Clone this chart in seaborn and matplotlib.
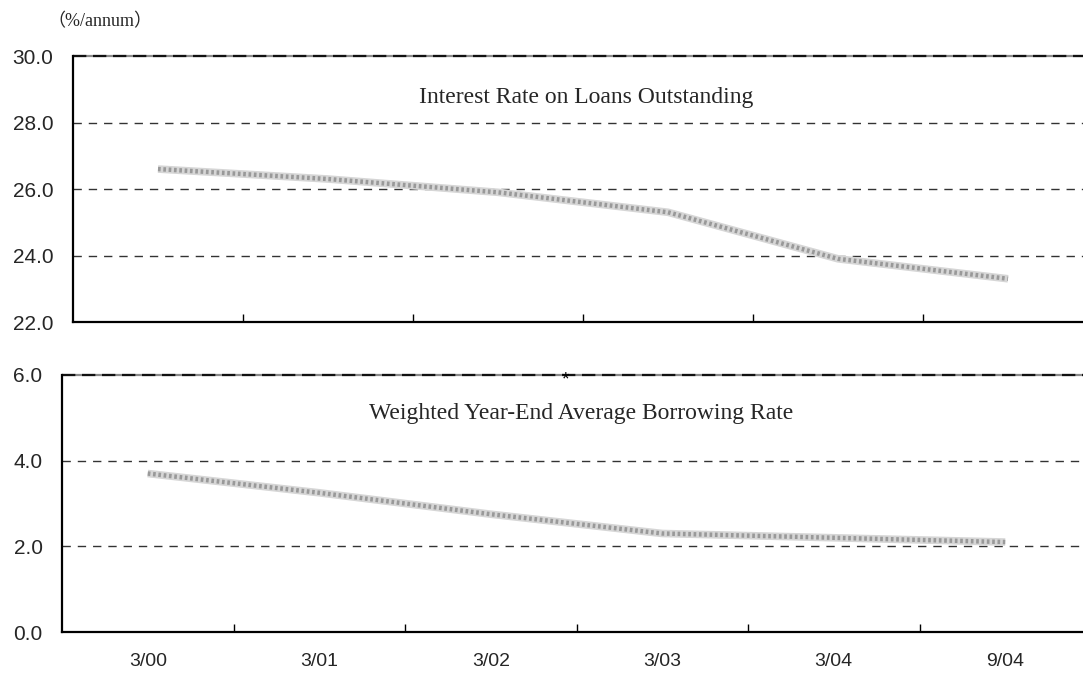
import matplotlib
matplotlib.use("Agg")
import matplotlib.pyplot as plt
import seaborn as sns
import pandas as pd

periods = ["3/00", "3/01", "3/02", "3/03", "3/04", "9/04"]
loan_rate = [26.6, 26.3, 25.9, 25.3, 23.9, 23.3]
borrow_rate = [3.7, 3.25, 2.75, 2.3, 2.2, 2.1]

top_title = "Interest Rate on Loans Outstanding"
bottom_title = "Weighted Year-End Average Borrowing Rate"
unit_label = "（%/annum）"

sns.set_theme(style="white")
plt.rcParams["font.family"] = ["Liberation Sans", "DejaVu Sans"]

W, H = 1083, 673
fig = plt.figure(figsize=(W / 100, H / 100), dpi=100)


def px_axes(left, top, right, bottom):
    return fig.add_axes([left / W, 1 - bottom / H, (right - left) / W, (bottom - top) / H])


ax1 = px_axes(73, 56, 1093, 322)
ax2 = px_axes(62, 375, 1091, 632)

df = pd.DataFrame({"period": periods, "x": range(len(periods)),
                   "loan": loan_rate, "borrow": borrow_rate})


def style_panel(ax, col, ylim, yticks, grid, title, tx, ty, show_labels):
    # textured grey line: light band with a dotted core
    sns.lineplot(data=df, x="x", y=col, ax=ax, color="#d6d6d6", lw=5.5,
                 solid_capstyle="butt", zorder=3)
    sns.lineplot(data=df, x="x", y=col, ax=ax, color="#999999", lw=3.2,
                 linestyle=(0, (0.6, 0.6)), zorder=4)
    ax.set_xlim(-0.5, len(periods) - 0.5)
    ax.set_ylim(*ylim)
    ax.set_xlabel("")
    ax.set_ylabel("")
    for g in grid:
        ax.axhline(g, color="#333333", lw=1.0, ls=(0, (6, 5)), zorder=1)
    # upper frame line: grey base with black dashes
    ax.axhline(ylim[1], color="#8a8a8a", lw=1.6, zorder=2, clip_on=False)
    ax.axhline(ylim[1], color="#111111", lw=1.6, ls=(0, (6, 3)), zorder=2,
               clip_on=False)
    ax.set_yticks(yticks)
    ax.set_yticklabels([f"{v:.1f}" for v in yticks], fontsize=15)
    ax.tick_params(axis="y", length=0, pad=14)
    # category separators as inward ticks
    ax.set_xticks([i + 0.5 for i in range(len(periods) - 1)])
    ax.set_xticklabels([])
    ax.tick_params(axis="x", direction="in", length=6, width=1, color="black",
                   bottom=True)
    if show_labels:
        ax.set_xticks(range(len(periods)), minor=True)
        ax.set_xticklabels(periods, minor=True, fontsize=14)
        ax.tick_params(axis="x", which="minor", length=0, pad=15)
    for s in ("top", "right"):
        ax.spines[s].set_visible(False)
    for s in ("left", "bottom"):
        ax.spines[s].set_color("black")
        ax.spines[s].set_linewidth(1.6)
    ax.text(tx, ty, title, transform=fig.transFigure, ha="center", va="center",
            fontsize=17, family=["Liberation Serif", "DejaVu Serif"])


style_panel(ax1, "loan", (22, 30), [22, 24, 26, 28, 30], [24, 26, 28],
            top_title, 586 / W, 1 - 97 / H, False)
style_panel(ax2, "borrow", (0, 6), [0, 2, 4, 6], [2, 4],
            bottom_title, 581 / W, 1 - 413 / H, True)

fig.text(100 / W, 1 - 22 / H, unit_label, ha="center", va="center", fontsize=13,
         family=["Liberation Serif", "Noto Sans CJK JP"])
fig.text(565 / W, 1 - 380 / H, "*", ha="center", va="center", fontsize=14,
         color="black")

fig.savefig("out.png", dpi=100)
